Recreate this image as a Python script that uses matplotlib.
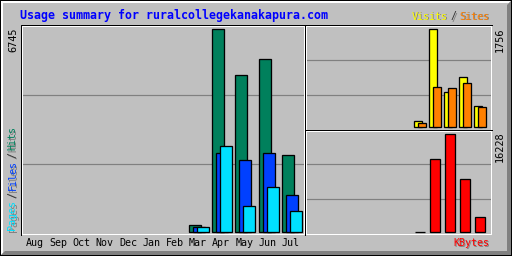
import numpy as np
import matplotlib
matplotlib.use("Agg")
import matplotlib.pyplot as plt
from matplotlib.patches import Polygon

# ---------------- data ----------------
months = ["Aug", "Sep", "Oct", "Nov", "Dec", "Jan", "Feb", "Mar", "Apr", "May", "Jun", "Jul"]
hits = [0, 0, 0, 0, 0, 0, 0, 233, 6745, 5217, 5748, 2558]
files = [0, 0, 0, 0, 0, 0, 0, 166, 2625, 2392, 2625, 1229]
pages = [0, 0, 0, 0, 0, 0, 0, 166, 2857, 864, 1495, 698]
visits = [0, 0, 0, 0, 0, 0, 0, 108, 1756, 633, 896, 376]
sites = [0, 0, 0, 0, 0, 0, 0, 72, 717, 699, 794, 358]
kbytes = [0, 0, 0, 0, 0, 0, 0, 120, 12088, 16228, 8777, 2484]
title = "Usage summary for ruralcollegekanakapura.com"

C_HITS = "#00805C"
C_FILES = "#0040FF"
C_PAGES = "#00E0FF"
C_VISITS = "#FFFF00"
C_SITES = "#FF8000"
C_KB = "#FF0000"
BG = "#C0C0C0"
GRID = "#808080"
MONO = "DejaVu Sans Mono"
PX = 0.72  # one pixel in points at 100 dpi

W, H = 512, 256
fig = plt.figure(figsize=(W / 100, H / 100), dpi=100)
fig.patch.set_facecolor(BG)

# background axes in pixel coordinates
bg = fig.add_axes([0, 0, 1, 1])
bg.set_xlim(0, W)
bg.set_ylim(H, 0)
bg.axis("off")
bg.add_patch(Polygon([(0, 0), (W, 0), (W, H), (0, H)], closed=True, fc="black", ec="none"))
bg.add_patch(Polygon([(1, 1), (W - 1, 1), (W - 1, H - 1), (1, H - 1)], closed=True, fc=BG, ec="none"))
bg.add_patch(Polygon([(1, 1), (W - 1, 1), (W - 3, 3), (3, 3), (3, H - 3), (1, H - 1)],
                     closed=True, fc="white", ec="none"))
bg.add_patch(Polygon([(W - 1, 1), (W - 1, H - 1), (1, H - 1), (5, H - 5), (W - 5, H - 5), (W - 5, 5)],
                     closed=True, fc="#808080", ec="none"))

panels = []


def place(x0, y0, x1, y1):
    ax = fig.add_axes([x0 / W, 1 - y1 / H, (x1 - x0) / W, (y1 - y0) / H])
    ax.set_facecolor(BG)
    for s in ax.spines.values():
        s.set_visible(False)
    for f in (1 / 3, 2 / 3):
        ax.plot([0, 1], [f, f], transform=ax.transAxes, color=GRID, lw=PX * 1.2, zorder=1)
    ax.set_yticks([])
    panels.append((x0, y0, x1, y1))
    return ax


def bars(ax, vals, off, width, color):
    v = np.asarray(vals, dtype=float)
    idx = np.arange(len(v))
    m = v > 0
    ax.bar(idx[m] + off, v[m], width=width, align="edge", color=color,
           edgecolor="black", linewidth=PX * 1.3, zorder=3)


# ---- main panel: hits / files / pages ----
slot = 23.3
axm = place(21, 25, 304, 234)
axm.set_xlim((21 - 25.7) / slot, (304 - 25.7) / slot)
ym = 203 / 6745
axm.set_ylim(-1.7 / ym, 6745 + 4.3 / ym)
bars(axm, hits, 0, 12 / slot, C_HITS)
bars(axm, files, 4 / slot, 12 / slot, C_FILES)
bars(axm, pages, 8 / slot, 12 / slot, C_PAGES)
axm.set_xticks(np.arange(len(months)) + 9 / slot)
axm.set_xticklabels(months, fontsize=7.2, family=MONO)
axm.tick_params(axis="x", length=0, pad=3.0)

# ---- top right: visits / sites ----
slot2 = 15.0
axv = place(305, 25, 491, 129.5)
axv.set_xlim((305 - 309.3) / slot2, (491 - 309.3) / slot2)
yv = 98 / 1756
axv.set_ylim(-2.2 / yv, 1756 + 4.3 / yv)
bars(axv, visits, 0, 7.5 / slot2, C_VISITS)
bars(axv, sites, 4 / slot2, 7.5 / slot2, C_SITES)
axv.set_xticks([])

# ---- bottom right: kbytes ----
axk = place(305, 129.5, 491, 234.3)
axk.set_xlim((305 - 309.3) / slot2, (491 - 309.3) / slot2)
yk = 98 / 16228
axk.set_ylim(-2.0 / yk, 16228 + 4.6 / yk)
bars(axk, kbytes, 0.5 / slot2, 10 / slot2, C_KB)
axk.set_xticks([])

# ---- overlay for panel borders ----
ov = fig.add_axes([0, 0, 1, 1])
ov.set_xlim(0, W)
ov.set_ylim(H, 0)
ov.axis("off")
ov.patch.set_alpha(0)
for (x0, y0, x1, y1) in panels:
    x0, y0, x1, y1 = round(x0), round(y0), round(x1), round(y1)
    ov.plot([x0 - 0.5, x0 - 0.5, x1 + 0.5], [y1 + 0.5, y0 - 0.5, y0 - 0.5], color="black", lw=PX)
    ov.plot([x0 + 0.5, x0 + 0.5, x1 - 0.5, x1 - 0.5, x0 + 0.5],
            [y1 - 0.5, y0 + 0.5, y0 + 0.5, y1 - 0.5, y1 - 0.5], color="white", lw=PX)


# ---- texts ----
def stext(x, y, s, color, shadow=True, **kw):
    if shadow:
        ov.text(x + 1, y + 1, s, color="#808080", **kw)
    ov.text(x, y, s, color=color, **kw)


ov.text(20, 15, title, color="#0000FF", fontsize=8.4, family=MONO, weight="bold",
        ha="left", va="center")

kw = dict(fontsize=7.2, family=MONO, va="center", ha="left")
stext(411.5, 16.5, "Visits", C_VISITS, **kw)
stext(450.5, 16.5, "/", "#303030", **kw)
stext(459.5, 16.5, "Sites", C_SITES, **kw)
stext(453, 243, "KBytes", C_KB, **kw)

kv = dict(fontsize=7.2, family=MONO, rotation=90, ha="center", va="bottom")
stext(12.5, 230.5, "Pages", C_PAGES, **kv)
stext(12.5, 197.5, "/", "#303030", **kv)
stext(12.5, 190.5, "Files", C_FILES, **kv)
stext(12.5, 158, "/", "#303030", **kv)
stext(12.5, 150.5, "Hits", C_HITS, **kv)

kn = dict(fontsize=7.4, family=MONO, rotation=90, ha="center", va="top", color="black")
ov.text(13, 28, f"{max(hits)}", **kn)
ov.text(499.5, 28, f"{max(visits)}", **kn)
ov.text(499.5, 131, f"{max(kbytes)}", **kn)

fig.savefig("out.png", dpi=100, facecolor=BG)
